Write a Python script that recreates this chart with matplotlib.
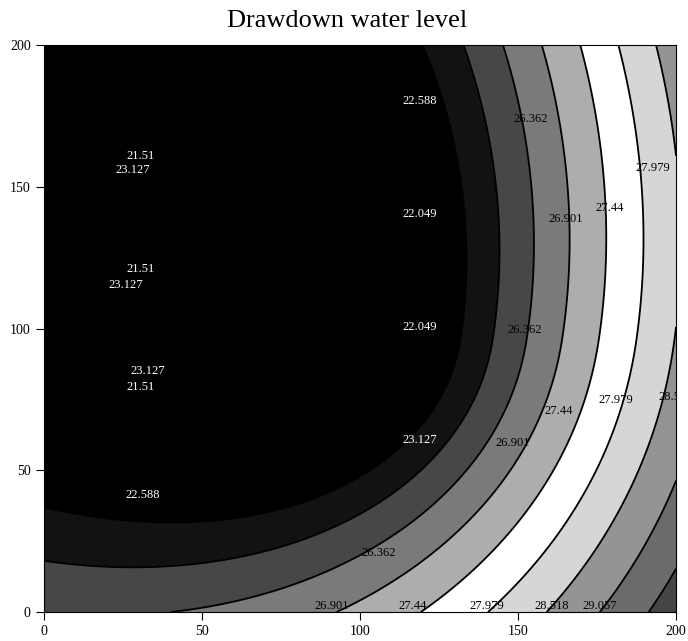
import numpy as np
import matplotlib
matplotlib.use("Agg")
import matplotlib.pyplot as plt

# contour levels of the water level (m)
levels = [21.51, 22.049, 22.588, 23.127, 23.666, 24.205, 24.744, 25.284,
          25.823, 26.362, 26.901, 27.44, 27.979, 28.518, 29.057, 29.596, 30.135]

c25284 = [(0, 36), (40, 30), (80, 40), (112, 55), (128, 90), (133, 130), (130, 170), (122, 200)]
c25823 = [(0, 19.5), (28, 14), (50, 16), (81, 27), (97, 34), (124.4, 46.6), (135, 70),
          (141.5, 101), (144.3, 141.8), (141, 175), (132.6, 200)]
c26362 = [(50, 0), (75, 10), (97, 21), (105, 25.4), (137, 46.6), (148, 75), (152.2, 101),
          (154.7, 141.8), (151, 175), (143.7, 200)]
c26901 = [(87, 0), (106, 12), (124, 25.4), (148.4, 46.6), (158, 75), (162.7, 101),
          (165.8, 141.8), (162, 175), (155.4, 200)]
c27440 = [(122, 0), (142.5, 25.4), (162.3, 46.6), (171, 75), (175, 101), (178.5, 141.8),
          (174.5, 175), (167.7, 200)]
c27979 = [(143.4, 0), (159.5, 25.4), (175, 46.6), (183, 75), (187.7, 101), (190.2, 141.8),
          (187, 175), (180.7, 200)]
c28518 = [(164, 0), (175, 25.4), (188.6, 46.6), (200, 88), (200, 171), (196, 200)]
c29057 = [(180, 0), (192, 25.4), (200, 46)]
c29596 = [(188.6, 0), (200, 35)]

# contour labels as printed on the map
lab_x = [119, 30.4, 28.2, 119, 30.4, 25.9, 119, 32.9, 30.4, 119, 31.3,
         154, 152, 106, 165, 179, 192.7, 163, 181, 200, 148.4,
         91, 116.5, 140, 160.8, 176]
lab_y = [180.2, 161, 155.8, 140.4, 121, 115.5, 100.5, 85, 79.5, 60.7, 41.3,
         174, 99.5, 20.8, 138.6, 142.5, 156.6, 70.9, 74.8, 75.8, 59.6,
         2, 2, 2, 2, 2]
lab_txt = ["22.588", "21.51", "23.127", "22.049", "21.51", "23.127", "22.049", "23.127",
           "21.51", "23.127", "22.588",
           "26.362", "26.362", "26.362", "26.901", "27.44", "27.979", "27.44", "27.979",
           "28.518", "26.901",
           "26.901", "27.44", "27.979", "28.518", "29.057"]

px, py, pz = [], [], []
for lev, pts in zip([25.284, 25.823, 26.362, 26.901, 27.44, 27.979, 28.518, 29.057, 29.596],
                    [c25284, c25823, c26362, c26901, c27440, c27979, c28518, c29057, c29596]):
    for (a, b) in pts:
        px.append(a); py.append(b); pz.append(lev)
px, py, pz = np.array(px, float), np.array(py, float), np.array(pz, float)


# distance from the cone centre, squeezed differently above and below it
def rho(x, y, cx, cy, sd, su):
    dy = y - cy
    s = np.where(dy < 0, sd, su)
    return np.sqrt((x - cx)**2 + (s * dy)**2)


def design(r, x, y):
    u = (x - 100) / 100
    v = (y - 100) / 100
    return np.stack([np.ones_like(r), r, r**2, r**3, u, v, u * u, u * v, v * v], axis=-1)


def fit(p):
    A = design(rho(px, py, *p), px, py)
    c, *_ = np.linalg.lstsq(A, pz, rcond=None)
    return c, np.sum((A @ c - pz)**2)


def search(cxs, cys, sds, sus):
    best = None
    for cx in cxs:
        for cy in cys:
            for sd in sds:
                for su in sus:
                    c, err = fit((cx, cy, sd, su))
                    if best is None or err < best[0]:
                        best = (err, (cx, cy, sd, su), c)
    return best

# coarse search, then a finer one around the best
err, p, c = search(np.arange(20, 80, 4), np.arange(100, 161, 5),
                   np.arange(0.7, 1.11, 0.04), np.arange(0.55, 0.96, 0.04))
err, p, c = search(p[0] + np.arange(-3, 3.1, 1.5), p[1] + np.arange(-4, 4.1, 2),
                   p[2] + np.arange(-0.03, 0.031, 0.015), p[3] + np.arange(-0.03, 0.031, 0.015))

r_lo = rho(px, py, *p).min()
xg = np.linspace(0, 200, 401)
X, Y = np.meshgrid(xg, xg)
R = rho(X, Y, *p)
F = lambda r: c[0] + c[1] * r + c[2] * r**2 + c[3] * r**3
dF = c[1] + 2 * c[2] * r_lo + 3 * c[3] * r_lo**2
D = design(R, X, Y)
G = D[..., 4:] @ c[4:]
Z = np.where(R < r_lo, F(r_lo) + dF * (R - r_lo), F(R)) + G

g = ['0.0'] * 8 + ['0.07', '0.28', '0.48', '0.68', '1.0', '0.84', '0.58', '0.42', '0.27', '0.2']

fig = plt.figure(figsize=(6.88, 6.41), dpi=100)
ax = fig.add_axes([0.064, 0.0452, 0.9186, 0.8846])
ax.contourf(X, Y, Z, levels=levels, colors=g, extend='both')
ax.contour(X, Y, Z, levels=levels, colors='black', linewidths=1.3)

for xx, yy, tt in zip(lab_x, lab_y, lab_txt):
    col = 'white' if float(tt) < 24 else 'black'
    ax.text(xx, yy, tt, color=col, fontsize=9, family='Liberation Serif',
            ha='center', va='center', clip_on=True)

ax.set_xlim(0, 200)
ax.set_ylim(0, 200)
ax.set_xticks([0, 50, 100, 150, 200])
ax.set_yticks([0, 50, 100, 150, 200])
ax.tick_params(direction='out', length=6, width=0.8, labelsize=10)
for lbl in ax.get_xticklabels() + ax.get_yticklabels():
    lbl.set_family('Liberation Serif')
for s in ax.spines.values():
    s.set_linewidth(0.8)

fig.text(0.505, 1 - 21 / 641, "Drawdown water level", fontsize=19,
         family='Liberation Serif', ha='center', va='center')

fig.savefig("out.png", dpi=100)
